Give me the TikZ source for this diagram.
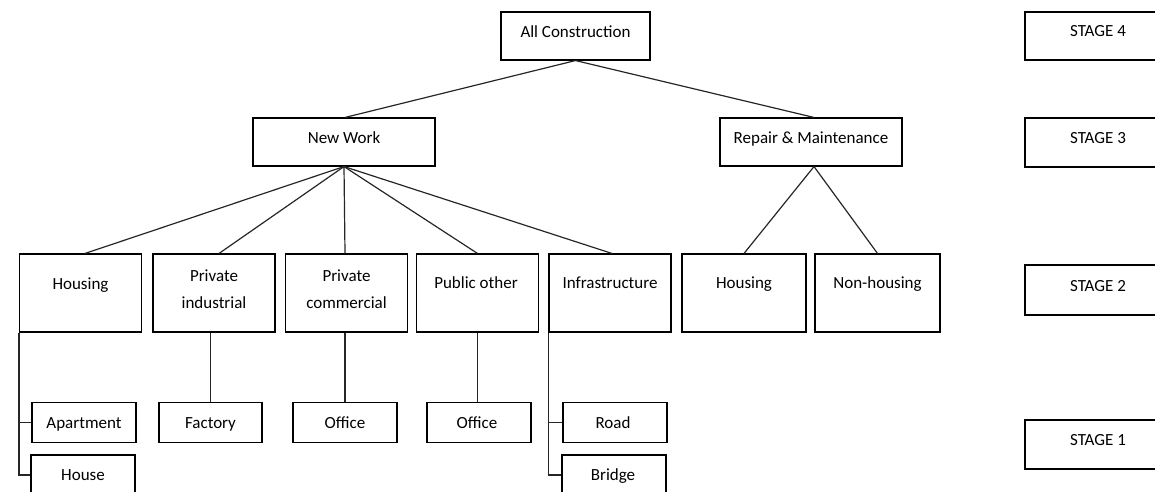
\documentclass[tikz,border=0pt]{standalone}
\usepackage{fontspec}
\setmainfont{Carlito}
\begin{document}
\begin{tikzpicture}[x=1pt,y=-1pt,
  box/.style={draw=black,line width=1.1pt,rectangle,inner sep=0pt,fill=white},
  txt/.style={anchor=base,inner sep=0pt,font=\fontsize{17}{20}\selectfont,text=black},
  link/.style={draw=black!85,line width=1.2pt}]
\useasboundingbox (0,0) rectangle (1155,491);
\clip (0,0) rectangle (1155,491);

% top level
\node[box,minimum width=149pt,minimum height=48pt] (allc) at (575.5,36) {};
\node[txt] (allc-t) at (575.5,37) {All Construction};

% stage 3
\node[box,minimum width=182pt,minimum height=48pt] (nw) at (344,142) {};
\node[txt] (nw-t) at (344,143) {New Work};
\node[box,minimum width=182pt,minimum height=48pt] (rm) at (811,142) {};
\node[txt] (rm-t) at (811,143) {Repair \& Maintenance};

% stage 2
\node[box,minimum width=122pt,minimum height=78pt] (h1) at (80.5,293) {};
\node[txt] (h1-t) at (80.5,289) {Housing};
\node[box,minimum width=122pt,minimum height=78pt] (pi) at (214,293) {};
\node[txt] (pi-t1) at (214,281) {Private};
\node[txt] (pi-t2) at (214,308) {industrial};
\node[box,minimum width=122pt,minimum height=78pt] (pc) at (346.5,293) {};
\node[txt] (pc-t1) at (346.5,281) {Private};
\node[txt] (pc-t2) at (346.5,308) {commercial};
\node[box,minimum width=122pt,minimum height=78pt] (po) at (477.5,293) {};
\node[txt] (po-t) at (476,288) {Public other};
\node[box,minimum width=122pt,minimum height=78pt] (inf) at (610,293) {};
\node[txt] (inf-t) at (610,288) {Infrastructure};
\node[box,minimum width=124pt,minimum height=78pt] (h2) at (744,293) {};
\node[txt] (h2-t) at (744,288) {Housing};
\node[box,minimum width=125pt,minimum height=78pt] (nh) at (877.5,293) {};
\node[txt] (nh-t) at (877.5,288) {Non-housing};

% stage 1
\node[box,minimum width=104pt,minimum height=40pt] (apt) at (84,422.5) {};
\node[txt] (apt-t) at (84,428) {Apartment};
\node[box,minimum width=104pt,minimum height=40pt] (house) at (83,475) {};
\node[txt] (house-t) at (83,480) {House};
\node[box,minimum width=103pt,minimum height=40pt] (fac) at (210.5,422.5) {};
\node[txt] (fac-t) at (210.5,428) {Factory};
\node[box,minimum width=104pt,minimum height=40pt] (off1) at (345,422.5) {};
\node[txt] (off1-t) at (345,428) {Office};
\node[box,minimum width=104pt,minimum height=40pt] (off2) at (479,422.5) {};
\node[txt] (off2-t) at (477,428) {Office};
\node[box,minimum width=104pt,minimum height=40pt] (road) at (615,422.5) {};
\node[txt] (road-t) at (613,428) {Road};
\node[box,minimum width=104pt,minimum height=40pt] (bridge) at (614,475) {};
\node[txt] (bridge-t) at (613,480) {Bridge};

% stage markers
\node[box,minimum width=146pt,minimum height=48pt] (st4) at (1098,36) {};
\node[txt] (st4-t) at (1098,36) {STAGE 4};
\node[box,minimum width=146pt,minimum height=49pt] (st3) at (1098,142.5) {};
\node[txt] (st3-t) at (1098,143) {STAGE 3};
\node[box,minimum width=146pt,minimum height=50pt] (st2) at (1098,290) {};
\node[txt] (st2-t) at (1098,291) {STAGE 2};
\node[box,minimum width=146pt,minimum height=49pt] (st1) at (1098,444.5) {};
\node[txt] (st1-t) at (1098,445.5) {STAGE 1};

% connectors: stage 4 to 3
\draw[link] (allc.south) -- ([xshift=1pt]nw.north);
\draw[link] (allc.south) -- ([xshift=3pt]rm.north);

% connectors: new work to its categories
\draw[link] (nw.south) -- ([xshift=4.5pt]h1.north);
\draw[link] (nw.south) -- ([xshift=5pt]pi.north);
\draw[link] (nw.south) -- ([xshift=-1.5pt]pc.north);
\draw[link] (nw.south) -- (po.north);
\draw[link] (nw.south) -- ([xshift=2pt]inf.north);

% connectors: repair & maintenance
\draw[link] ([xshift=3pt]rm.south) -- (h2.north);
\draw[link] ([xshift=3pt]rm.south) -- (nh.north);

% connectors: stage 2 to 1
\draw[link] (h1.south west) -- (h1.south west |- house.west) -- (house.west);
\draw[link] (h1.south west |- apt.west) -- (apt.west);
\draw[link] (fac.north |- pi.south) -- (fac.north);
\draw[link] (off1.north |- pc.south) -- (off1.north);
\draw[link] (po.south) -- (po.south |- off2.north);
\draw[link] (inf.south west) -- (inf.south west |- bridge.west) -- (bridge.west);
\draw[link] (inf.south west |- road.west) -- (road.west);
\end{tikzpicture}
\end{document}
